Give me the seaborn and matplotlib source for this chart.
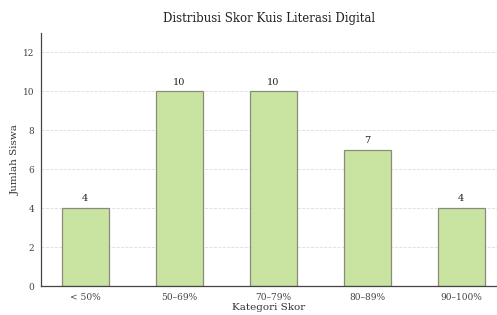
import numpy as np
import pandas as pd
import seaborn as sns
import matplotlib.pyplot as plt

# data
categories = ["< 50%", "50–69%", "70–79%", "80–89%", "90–100%"]
counts = [4, 10, 10, 7, 4]

df = pd.DataFrame({"Kategori": categories, "Jumlah": counts})

sns.set_style("white")
plt.rcParams["font.family"] = ["DejaVu Serif"]

fig = plt.figure(figsize=(4.97, 3.15), dpi=100)
ax = fig.add_axes([41 / 497, 29 / 315, 456 / 497, 253 / 315])

sns.barplot(data=df, x="Kategori", y="Jumlah", color="#c9e4a0",
            edgecolor="#8a8a80", linewidth=0.9, width=0.5, saturation=1, ax=ax)

for i, v in enumerate(counts):
    ax.text(i, v + 0.25, str(v), ha="center", va="bottom", fontsize=7, color="#222222")

ax.set_ylim(0, 13)
ax.set_xlim(-0.47, 4.38)
ax.set_yticks(range(0, 13, 2))
ax.yaxis.grid(True, linestyle="--", color="#dddddd", linewidth=0.6)
ax.set_axisbelow(True)
sns.despine(ax=ax)
for s in ["left", "bottom"]:
    ax.spines[s].set_color("#444444")
    ax.spines[s].set_linewidth(0.9)

ax.tick_params(axis="both", labelsize=6.5, colors="#444444", length=3, width=0.7, pad=2)
ax.set_xlabel("Kategori Skor", fontsize=7.5, color="#333333", labelpad=1)
ax.set_ylabel("Jumlah Siswa", fontsize=7.5, color="#333333", labelpad=2)
ax.set_title("Distribusi Skor Kuis Literasi Digital", fontsize=8.5, color="#222222", pad=8)

fig.savefig("out.png", dpi=100)
